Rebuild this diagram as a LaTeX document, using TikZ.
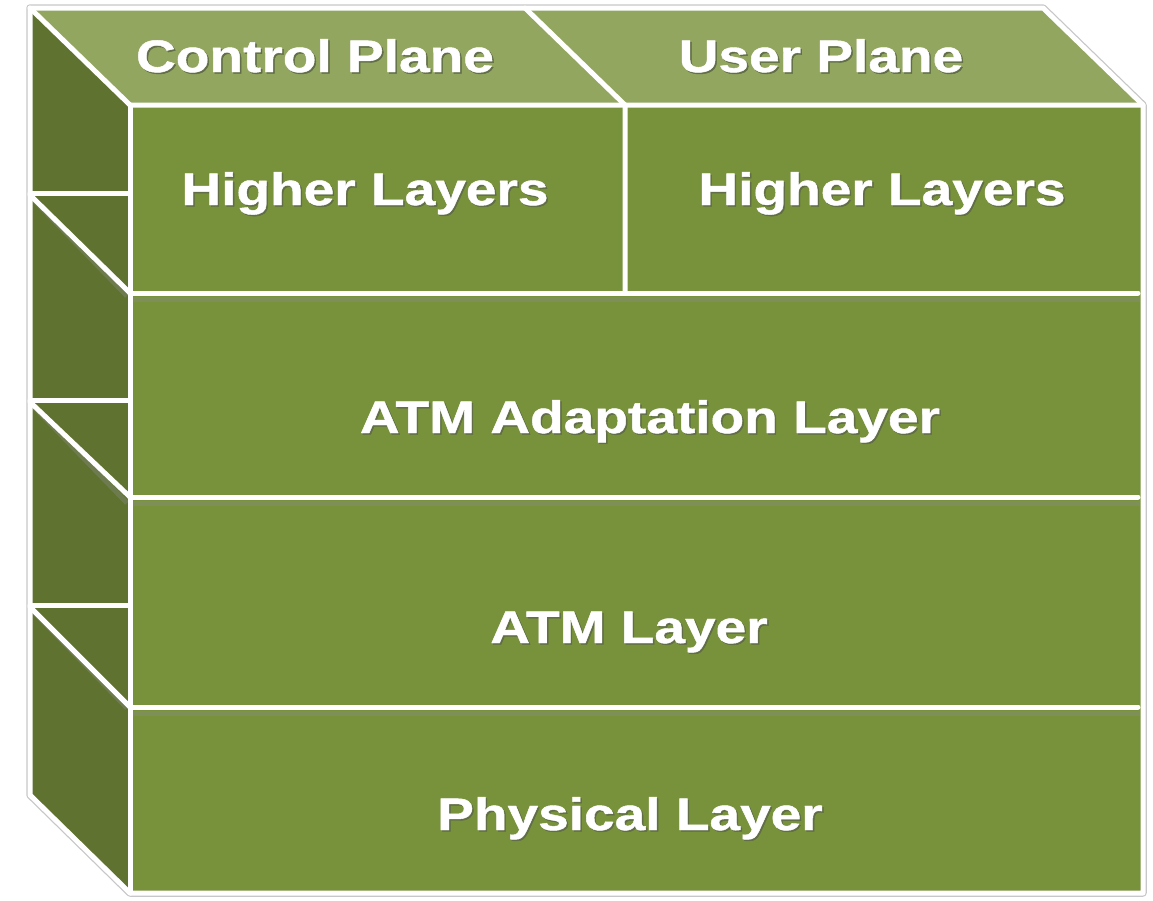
\documentclass[tikz,border=0pt]{standalone}
\usepackage{fontspec}
\newfontfamily\lab[FakeStretch=1.21,FakeBold=1.0]{Liberation Sans}
\definecolor{topc}{HTML}{92A660}
\definecolor{frontc}{HTML}{78923C}
\definecolor{sidec}{HTML}{5F722F}
\definecolor{shadc}{HTML}{3A4A1A}
\newcommand{\shtxt}[1]{\rlap{\kern1.5pt\raisebox{-1.5pt}{\textcolor{shadc!80}{#1}}}#1}
\tikzset{
  lbl/.style={text=white, inner sep=0pt, anchor=base, font=\lab\bfseries\fontsize{45.5}{54}\selectfont},
  edge/.style={white, line width=5pt, line join=round, line cap=round},
  glow/.style={black!22, line width=7.5pt, line join=round, line cap=round},
  dshade/.style={black!45, opacity=0.35, line width=5pt}
}
\begin{document}
\begin{tikzpicture}[x=1pt,y=-1pt]
\useasboundingbox (0,0) rectangle (1153,900);
% outer glow
\draw[glow] (30,8) -- (1043,8) -- (1143,105) -- (1143,893) -- (130,893) -- (30,795) -- cycle;
% faces
\fill[sidec] (30,8) -- (130,105) -- (130,893) -- (30,795) -- cycle;
\fill[topc] (30,8) -- (1043,8) -- (1143,105) -- (130,105) -- cycle;
\fill[frontc] (130,105) rectangle (1143,893);
% soft shadows below dividers
\foreach \yy in {297,501,711} \draw[dshade] (133,\yy+2) -- (1140,\yy+2);
\foreach \yy in {195,402,607} \draw[dshade] (33,\yy+4) -- (127,\yy+101);
% edges
\draw[edge] (30,8) -- (1043,8) -- (1143,105) -- (1143,893) -- (130,893) -- (30,795) -- cycle;
\draw[edge] (30,8) -- (130,105) -- (1143,105);
\draw[edge] (130,105) -- (130,893);
\draw[edge] (525,8) -- (625,105) -- (625,293);
\foreach \yy in {293,497,707} \draw[edge] (130,\yy) -- (1138,\yy);
\foreach \yy/\zz in {193/293,400/497,605/707} {
  \draw[edge] (30,\yy) -- (130,\yy);
  \draw[edge] (30,\yy+2) -- (130,\zz);
}
% labels
\node[lbl] (cp) at (315,72) {\shtxt{Control Plane}};
\node[lbl] (up) at (821,72) {\shtxt{User Plane}};
\node[lbl] (hl1) at (365,205) {\shtxt{Higher Layers}};
\node[lbl] (hl2) at (882,205) {\shtxt{Higher Layers}};
\node[lbl] (aal) at (650,433) {\shtxt{ATM Adaptation Layer}};
\node[lbl] (atm) at (629,643) {\shtxt{ATM Layer}};
\node[lbl] (phy) at (630,830) {\shtxt{Physical Layer}};
\end{tikzpicture}
\end{document}
